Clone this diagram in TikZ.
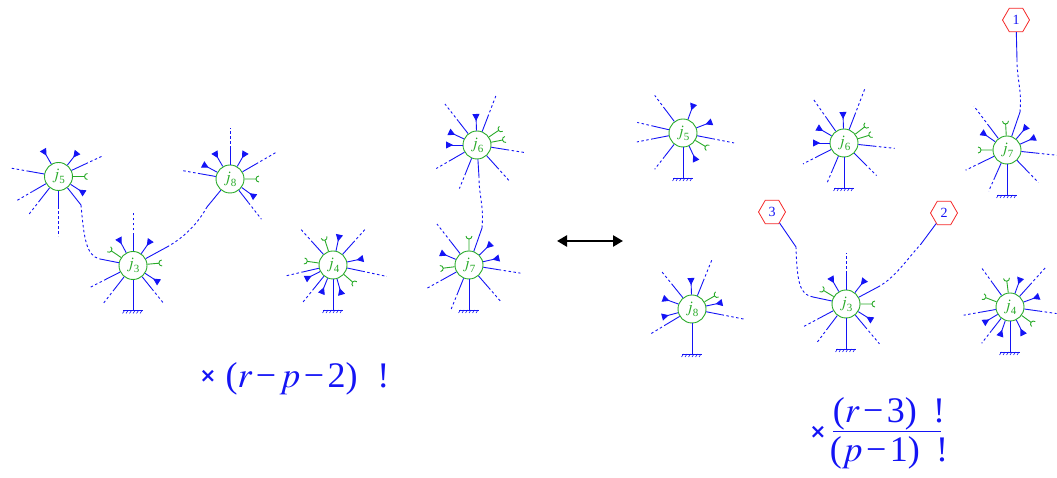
\documentclass[tikz,border=0pt]{standalone}
\usepackage{mathptmx}
\usepackage[no-math]{fontspec}
\setmainfont{Liberation Serif}
\newfontfamily\crossfont{DejaVu Sans}
\usetikzlibrary{arrows.meta,shapes.geometric}
\definecolor{vgreen}{RGB}{40,170,40}
\definecolor{vblue}{RGB}{20,20,245}
\definecolor{hexred}{RGB}{245,40,40}
\def\legs(#1)#2{\foreach \ang/\len in {#2}{\draw[spoke] (#1.\ang) -- ([shift={(\ang:30)}]#1.center);
  \draw[spoke,farpart] ([shift={(\ang:30)}]#1.center) -- ([shift={(\ang:\len)}]#1.center);}}
\def\arrs(#1)#2{\foreach \ang in {#2}{\draw[spoke,tip] (#1.\ang) -- ([shift={(\ang:31)}]#1.center);}}
\def\forks(#1)#2{\foreach \ang in {#2}{\draw[fork] (#1.\ang) -- ([shift={(\ang:26)}]#1.center) arc[start angle=\ang+180,end angle=\ang+90,radius=3pt]
  ([shift={(\ang:26)}]#1.center) arc[start angle=\ang+180,end angle=\ang+270,radius=3pt];}}
\def\gnd(#1){\draw[spoke] (#1.south) -- ++(0,-31) ++(-10,0) -- ++(20,0);
  \foreach \k in {0,...,5}{\draw[spoke,line width=0.6pt] ([shift={(-8.5+3.5*\k,-45)}]#1.center) -- ++(-2,-3);}}
\def\jl#1{\(j\)\raisebox{-4pt}{\fontsize{11}{11}\selectfont #1}}
\def\mn{\hspace{3.5pt}−\hspace{3.5pt}}

\begin{document}
\begin{tikzpicture}[x=1pt,y=1pt,
  vtx/.style={circle,draw=vgreen,fill=white,line width=0.9pt,minimum size=28pt,inner sep=0pt,text=vgreen,font=\fontsize{16}{16}\selectfont},
  hex/.style={regular polygon,regular polygon sides=6,draw=hexred,fill=white,line width=0.8pt,minimum size=27pt,inner sep=0pt,text=vblue,font=\fontsize{14}{14}\selectfont},
  spoke/.style={draw=vblue,line width=0.9pt},
  farpart/.style={dash pattern=on 2.5pt off 2.5pt},
  fork/.style={draw=vgreen,line width=0.9pt},
  tip/.style={-{Triangle[reversed,length=7pt,width=7pt]}},
  big/.style={text=vblue,font=\fontsize{36}{36}\selectfont},
  times/.style={text=vblue,font=\crossfont\bfseries\fontsize{20}{20}\selectfont}]
	%%%%% START %%%%%
	\useasboundingbox (0,0) rectangle (1057,478);

	% left side
	\node[vtx] (j5L) at (58.5,301.5) {\jl5};
	\node[vtx] (j3L) at (133,212.5) {\jl3};
	\node[vtx] (j8L) at (230,299) {\jl8};
	\node[vtx] (j4L) at (333,213) {\jl4};
	\node[vtx] (j6L) at (477,333) {\jl6};
	\node[vtx] (j7L) at (469,213) {\jl7};

	\legs(j5L){25/49,170/48,-150/48,-128/49,-90/60} \arrs(j5L){120,52,-33} \forks(j5L){0}
	\legs(j3L){90/52,-153/49,-128/48,-51/50} \arrs(j3L){118,55,-33} \forks(j3L){146,5} \gnd(j3L)
	\legs(j8L){90/51,170/49,30/54,-52/51} \arrs(j8L){120,60,152,-36} \forks(j8L){0}
	\legs(j4L){132/48,48/50,-12/55,-167/50,-129/49} \arrs(j4L){78,12,-153,-112,-74} \forks(j4L){108,172,-41} \gnd(j4L)
	\legs(j6L){128/52,69/55,-9/50,-150/47,-112/47,-48/48} \arrs(j6L){92,155,180} \forks(j6L){34,11}
	\legs(j7L){128/52,-9/52,-151/48,-112/49,-49/48} \arrs(j7L){44,13,157} \forks(j7L){90,-173} \gnd(j7L)

	\coordinate (c53a) at (81,273);
	\coordinate (c53b) at (100,219);
	\draw[spoke] (j5L) -- (c53a);
	\draw[spoke,farpart] (c53a) .. controls (84,240) and (86,222) .. (c53b);
	\draw[spoke] (c53b) -- (j3L);

	\coordinate (c38a) at (167,231);
	\coordinate (c38b) at (207,271);
	\draw[spoke] (j3L) -- (c38a);
	\draw[spoke,farpart] (c38a) .. controls (185,241) and (198,255) .. (c38b);
	\draw[spoke] (c38b) -- (j8L);

	\coordinate (c76a) at (482,250);
	\coordinate (c76b) at (479,301);
	\draw[spoke] (j7L) -- (c76a);
	\draw[spoke,farpart] (c76a) .. controls (484,272) and (479,282) .. (c76b);
	\draw[spoke] (c76b) -- (j6L);

	\node[times] (x1) at (208,102) {×};
	\node[big,anchor=base west] (f1) at (222,90) {(\(r\)\mn\(p\)\mn2)\hspace{0.55em}!};

	% swap arrow
	\coordinate (la) at (557,237);
	\coordinate (ra) at (623,237);
	\draw[line width=2.6pt,{Triangle[length=10pt,width=11pt]}-{Triangle[length=10pt,width=11pt]}] (la) -- (ra);

	% right side
	\node[vtx] (j5R) at (683,345) {\jl5};
	\node[vtx] (j6R) at (844,335) {\jl6};
	\node[vtx] (j7R) at (1007,328) {\jl7};
	\node[vtx] (j8R) at (692,169) {\jl8};
	\node[vtx] (j3R) at (846,174) {\jl3};
	\node[vtx] (j4R) at (1010,171) {\jl4};
	\node[hex] (hex1) at (1016,458) {1};
	\node[hex] (hex3) at (772,266) {3};
	\node[hex] (hex2) at (944,265) {2};

	\legs(j5R){127/47,-11/52,167/47,-169/47,-128/46} \arrs(j5R){70,21,-65} \forks(j5R){-31} \gnd(j5R)
	\legs(j6R){125/53,69/58,-6/51,-153/46,-113/44,-45/46} \arrs(j6R){92,150,180} \forks(j6R){38,17} \gnd(j6R)
	\legs(j7R){127/55,-6/50,-154/46,-114/45,-46/45} \arrs(j7R){50,24,145} \forks(j7R){93,180} \gnd(j7R)
	\legs(j8R){129/50,68/54,-11/53,-149/48} \arrs(j8R){92,12,160,-165} \forks(j8R){30} \gnd(j8R)
	\legs(j3R){90/51,-152/48,-127/49,-50/52} \arrs(j3R){120,52,-32} \forks(j3R){149,0} \gnd(j3R)
	\legs(j4R){126/48,48/54,-8/47,-170/47,-128/46} \arrs(j4R){70,20,-149,-109,-64} \forks(j4R){97,159,-36} \gnd(j4R)

	\coordinate (h1a) at (1020,366);
	\coordinate (h1b) at (1017,418);
	\draw[spoke] (j7R) -- (h1a);
	\draw[spoke,farpart] (h1a) .. controls (1022,388) and (1017,398) .. (h1b);
	\draw[spoke] (h1b) -- (hex1);

	\coordinate (h3a) at (813,181);
	\coordinate (h3b) at (796,231);
	\draw[spoke] (j3R) -- (h3a);
	\draw[spoke,farpart] (h3a) .. controls (800,183) and (797,195) .. (h3b);
	\draw[spoke] (h3b) -- (hex3);

	\coordinate (h2a) at (878,191);
	\coordinate (h2b) at (921,234);
	\draw[spoke] (j3R) -- (h2a);
	\draw[spoke,farpart] (h2a) .. controls (895,200) and (908,220) .. (h2b);
	\draw[spoke] (h2b) -- (hex2);

	\node[times] (x2) at (818,46) {×};
	\node[big,anchor=base] (num) at (889,55) {(\(r\)\mn3)\hspace{0.45em}!};
	\node[big,anchor=base] (den) at (889,16) {(\(p\)\mn1)\hspace{0.45em}!};
	\draw[vblue,line width=1.3pt] (833,46.3) -- (941,46.3);
	%%%%% END %%%%%
\end{tikzpicture}
\end{document}
